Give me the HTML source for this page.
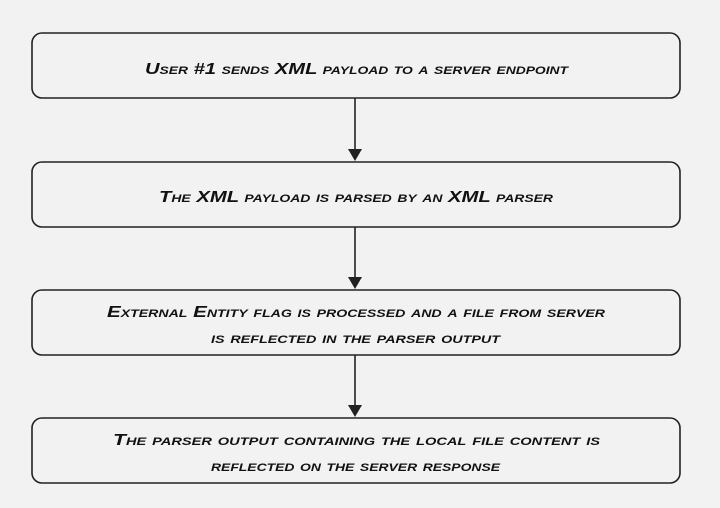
<!DOCTYPE html>
<html><head><style>
html,body{margin:0;padding:0;background:#f2f2f2;}
svg{display:block}
text{font-family:"Liberation Sans",sans-serif;font-style:italic;font-weight:bold;font-variant:small-caps;font-size:16px;fill:#111;}
</style></head><body>
<svg width="720" height="508" viewBox="0 0 720 508">
<rect width="720" height="508" fill="#f2f2f2"/>
<g fill="none" stroke="#222" stroke-width="1.6">
<rect x="32" y="33" width="648" height="65" rx="10"/>
<rect x="32" y="162" width="648" height="65" rx="10"/>
<rect x="32" y="290" width="648" height="65" rx="10"/>
<rect x="32" y="418" width="648" height="65" rx="10"/>
<line x1="355" y1="98" x2="355" y2="150"/>
<line x1="355" y1="227" x2="355" y2="278"/>
<line x1="355" y1="355" x2="355" y2="406"/>
</g>
<g fill="#222">
<polygon points="348,149 362,149 355,161"/>
<polygon points="348,277 362,277 355,289"/>
<polygon points="348,405 362,405 355,417"/>
</g>
<text x="145" y="74" textLength="423" lengthAdjust="spacingAndGlyphs">User #1 sends XML payload to a server endpoint</text>
<text x="159" y="202" textLength="394" lengthAdjust="spacingAndGlyphs">The XML payload is parsed by an XML parser</text>
<text x="107" y="317" textLength="498" lengthAdjust="spacingAndGlyphs">External Entity flag is processed and a file from server</text>
<text x="211" y="343" textLength="289" lengthAdjust="spacingAndGlyphs">is reflected in the parser output</text>
<text x="113" y="445" textLength="487" lengthAdjust="spacingAndGlyphs">The parser output containing the local file content is</text>
<text x="211" y="471" textLength="289" lengthAdjust="spacingAndGlyphs">reflected on the server response</text>
</svg>
</body></html>
